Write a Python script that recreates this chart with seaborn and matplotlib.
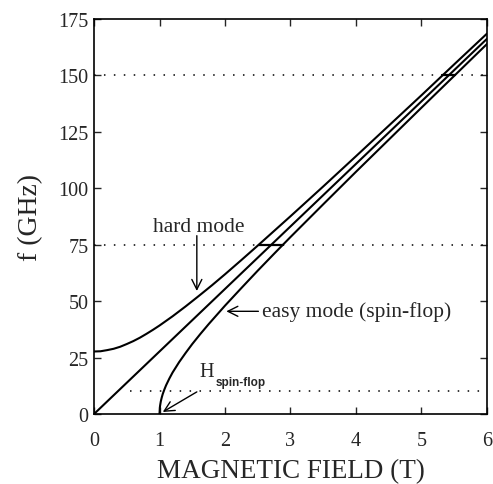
import numpy as np
import pandas as pd
import matplotlib
matplotlib.use("Agg")
import matplotlib.pyplot as plt
import seaborn as sns

# values (field in T, frequency in GHz)
hard_field = [0.0, 0.1, 0.2, 0.3, 0.4, 0.5, 0.6, 0.7, 0.8, 0.9, 1.0, 1.2, 1.4, 1.6, 1.8, 2.0, 2.25, 2.5,
              3.0, 3.5, 4.0, 4.5, 5.0, 5.5, 6.0]
hard_freq = [27.7, 27.8, 28.3, 28.9, 29.8, 31.0, 32.3, 33.8, 35.5, 37.3, 39.2, 43.3, 47.7, 52.3, 57.0, 61.9, 68.2, 74.6,
             87.6, 100.8, 114.2, 127.7, 141.2, 154.9, 168.5]

lin_field = [0.0, 1.0, 2.0, 3.0, 4.0, 5.0, 6.0]
lin_freq = [0.0, 27.7, 55.4, 83.1, 110.8, 138.5, 166.2]

easy_field = [1.0, 1.005, 1.01, 1.02, 1.035, 1.05, 1.075, 1.1, 1.15, 1.2, 1.3, 1.4, 1.5, 1.625, 1.75, 1.875,
              2.0, 2.25, 2.5, 2.75, 3.0, 3.5, 4.0, 4.5, 5.0, 5.5, 6.0]
easy_freq = [0.0, 2.8, 3.9, 5.6, 7.4, 8.9, 10.9, 12.7, 15.7, 18.4, 23.0, 27.1, 31.0, 35.5, 39.8, 43.9,
             48.0, 55.8, 63.5, 71.0, 78.4, 92.9, 107.3, 121.5, 135.7, 149.8, 163.9]

ref_freqs = [10, 75, 150]
ref_starts = [0.55, 0.0, 0.0]
bar_freqs = [75, 150]
bar_lo = [2.52, 5.32]
bar_hi = [2.89, 5.51]

sns.set_theme(style="ticks")
plt.rcParams['font.family'] = ['Liberation Serif', 'DejaVu Serif']

fig = plt.figure(figsize=(4.93, 4.85), dpi=100)
ax = fig.add_axes([0.1907, 0.1443, 0.797, 0.8145])

curves = pd.concat([
    pd.DataFrame({"field": hard_field, "freq": hard_freq, "mode": "hard"}),
    pd.DataFrame({"field": lin_field, "freq": lin_freq, "mode": "lin"}),
    pd.DataFrame({"field": easy_field, "freq": easy_freq, "mode": "easy"}),
])
for m, d in curves.groupby("mode", sort=False):
    sns.lineplot(data=d, x="field", y="freq", ax=ax, color="black", lw=1.5, sort=False, estimator=None)

for f, s in zip(ref_freqs, ref_starts):
    ax.plot([s, 6], [f, f], color="black", lw=1.1, linestyle=(0, (1, 5.5)))
for f, lo, hi in zip(bar_freqs, bar_lo, bar_hi):
    ax.plot([lo, hi], [f, f], color="black", lw=1.6)

ax.set_xlim(0, 6)
ax.set_ylim(0, 175)
ax.set_xticks(range(0, 7))
ax.set_yticks(range(0, 176, 25))
ax.tick_params(direction="in", top=True, right=True, length=5, width=1, labelsize=14.5)
ax.tick_params(axis="x", pad=12)
ax.tick_params(axis="y", pad=4)
for sp in ax.spines.values():
    sp.set_linewidth(1.2)
    sp.set_color("black")

ax.set_xlabel("MAGNETIC FIELD (T)", fontsize=19.5, labelpad=6)
ax.set_ylabel("f (GHz)", fontsize=20, labelpad=11)

ax.annotate("", xy=(1.57, 54.5), xytext=(1.57, 79),
            arrowprops=dict(arrowstyle="->", color="black", lw=1, shrinkA=0, shrinkB=0, mutation_scale=18))
ax.text(1.6, 83, "hard mode", fontsize=15.5, ha="center", va="center")

ax.annotate("easy mode (spin-flop)", xy=(2.02, 45.5), xytext=(2.56, 45.5), fontsize=15.5, va="center", ha="left",
            arrowprops=dict(arrowstyle="->", color="black", lw=1, shrinkA=0, shrinkB=0, mutation_scale=18))

ax.text(1.61, 19.0, "H", fontsize=14.5, ha="left", va="center")
ax.text(1.85, 14.2, "spin-flop", fontsize=8.5, ha="left", va="center", family="Liberation Sans", weight="bold")
ax.annotate("", xy=(1.05, 0.9), xytext=(1.57, 9.8),
            arrowprops=dict(arrowstyle="->", color="black", lw=1, shrinkA=0, shrinkB=0, mutation_scale=18))

fig.savefig("out.png", dpi=100)
